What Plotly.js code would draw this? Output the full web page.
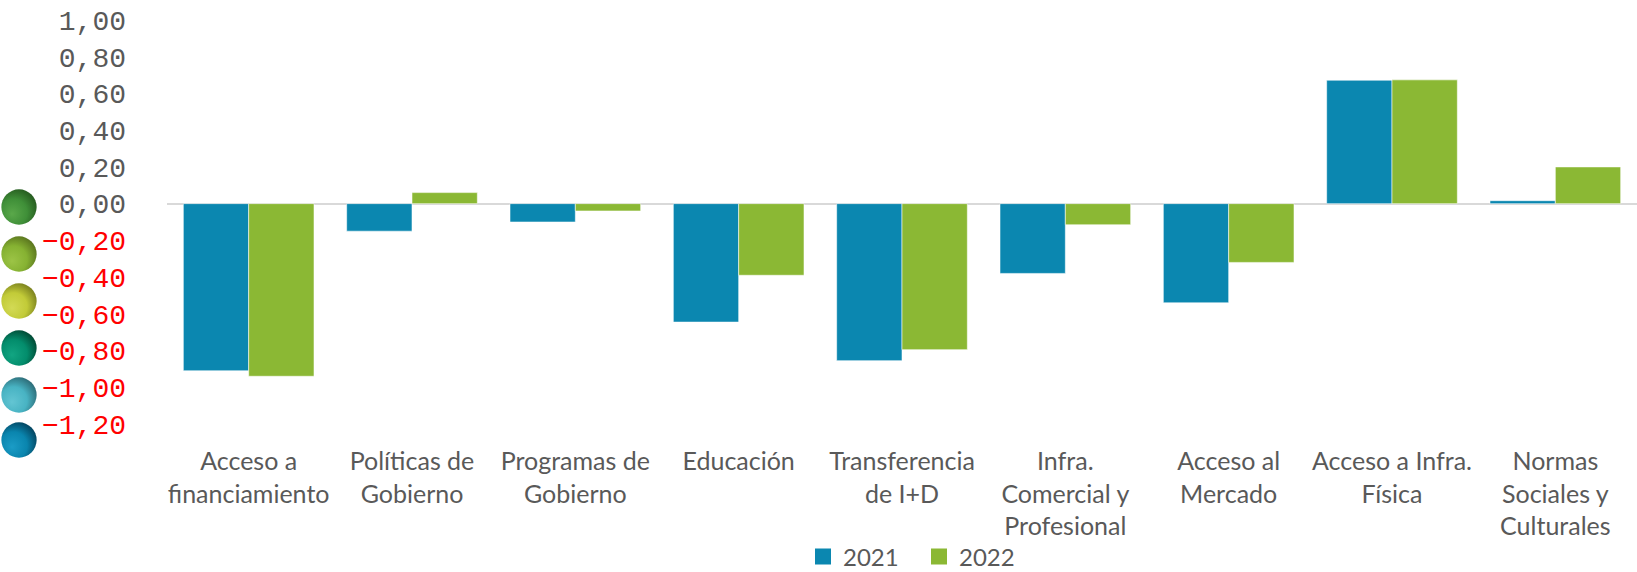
<!DOCTYPE html>
<html>
<head>
<meta charset="utf-8">
<script src="https://cdn.plot.ly/plotly-3.0.1.min.js"></script>
<style>
html,body{margin:0;padding:0;background:#fff;}
#chart{width:1637px;height:572px;}
</style>
</head>
<body>
<div id="chart"></div>
<script>
const categories = [
  "Acceso a<br>financiamiento",
  "Políticas de<br>Gobierno",
  "Programas de<br>Gobierno",
  "Educación",
  "Transferencia<br>de I+D",
  "Infra.<br>Comercial y<br>Profesional",
  "Acceso al<br>Mercado",
  "Acceso a Infra.<br>Física",
  "Normas<br>Sociales y<br>Culturales"
];
const values2021 = [-0.91, -0.15, -0.10, -0.645, -0.855, -0.38, -0.54, 0.672, 0.016];
const values2022 = [-0.94, 0.06, -0.04, -0.39, -0.795, -0.115, -0.32, 0.674, 0.20];
const seriesNames = ["2021", "2022"];
const seriesColors = ["#0b87b0", "#8bb834"];
const yTickVals = [1.0, 0.8, 0.6, 0.4, 0.2, 0.0, -0.2, -0.4, -0.6, -0.8, -1.0, -1.2];
const yTickLabels = ["1,00", "0,80", "0,60", "0,40", "0,20", "0,00", "−0,20", "−0,40", "−0,60", "−0,80", "−1,00", "−1,20"];

const W = 1637, H = 572;
const M = {l: 167, r: 0, t: 20, b: 148, autoexpand: false};
const plotW = W - M.l - M.r, plotH = H - M.t - M.b;

const tickText = yTickLabels.map((t, i) => yTickVals[i] < 0
  ? '<span style="color:#ff0000">' + t + '</span>' : t);

// decorative spheres (base, light, dark)
const sphereColors = [
  ["#3f8f38", "#5aa84a", "#24561d"],
  ["#86b232", "#9cc446", "#566f1c"],
  ["#c2cb38", "#d3da55", "#747a1c"],
  ["#038d6c", "#12a582", "#01432f"],
  ["#48b3c3", "#63c5d3", "#2a6570"],
  ["#0a85ae", "#1b9cc6", "#033e58"]
];
const sphereY = [207, 254, 301, 348, 395, 440];
const sphereX = 19, sphereD = 36;

function sphereSVG(c, i) {
  const svg = '<svg xmlns="http://www.w3.org/2000/svg" width="100" height="100" viewBox="0 0 100 100">' +
    '<defs><radialGradient id="g' + i + '" cx="38%" cy="62%" r="70%" fx="30%" fy="70%">' +
    '<stop offset="0%" stop-color="' + c[1] + '"/>' +
    '<stop offset="55%" stop-color="' + c[0] + '"/>' +
    '<stop offset="100%" stop-color="' + c[2] + '"/>' +
    '</radialGradient></defs>' +
    '<circle cx="50" cy="50" r="49" fill="url(#g' + i + ')"/></svg>';
  return 'data:image/svg+xml;utf8,' + encodeURIComponent(svg);
}

const images = sphereColors.map((c, i) => ({
  source: sphereSVG(c, i),
  xref: 'paper', yref: 'paper',
  x: (sphereX - M.l) / plotW,
  y: (H - M.b - sphereY[i]) / plotH,
  sizex: sphereD / plotW, sizey: sphereD / plotH,
  xanchor: 'center', yanchor: 'middle',
  sizing: 'contain', layer: 'above'
}));

const barTraces = [values2021, values2022].map((vals, i) => ({
  type: 'bar', name: seriesNames[i], x: categories, y: vals,
  marker: {color: seriesColors[i], line: {color: 'rgba(255,255,255,0.55)', width: 1}},
  showlegend: false, legendgroup: seriesNames[i], hoverinfo: 'skip'
}));
// legend entries (square swatches, like the original)
const legendTraces = seriesNames.map((n, i) => ({
  type: 'scatter', mode: 'markers', name: n, x: [null], y: [null],
  marker: {symbol: 'square', size: 16, color: seriesColors[i]},
  legendgroup: n, showlegend: true, hoverinfo: 'skip'
}));

const layout = {
  width: W, height: H,
  margin: M,
  paper_bgcolor: '#ffffff', plot_bgcolor: '#ffffff',
  barmode: 'group', bargap: 0.2, bargroupgap: 0,
  showlegend: true,
  legend: {
    orientation: 'h', x: (803 - M.l) / plotW, xanchor: 'left',
    y: (H - M.b - 557) / plotH, yanchor: 'middle',
    font: {family: 'Lato, sans-serif', size: 24, color: '#595959'},
    itemwidth: 30, entrywidth: 71, traceorder: 'normal', itemsizing: 'trace'
  },
  xaxis: {
    type: 'category', showgrid: false, zeroline: false, showline: false,
    ticks: '', ticklabelstandoff: 20,
    tickfont: {family: 'Lato, sans-serif', size: 25, color: '#595959'},
    tickangle: 0
  },
  yaxis: {
    range: [-1.2, 1.0], tickvals: yTickVals, ticktext: tickText,
    showgrid: false, showline: false, ticks: '',
    zeroline: true, zerolinecolor: '#d9d9d9', zerolinewidth: 2,
    ticklabelstandoff: 40,
    tickfont: {family: '"Liberation Mono", monospace', size: 28, color: '#595959'}
  },
  images: images
};

Plotly.newPlot('chart', barTraces.concat(legendTraces), layout, {displayModeBar: false, staticPlot: true});
</script>
</body>
</html>
